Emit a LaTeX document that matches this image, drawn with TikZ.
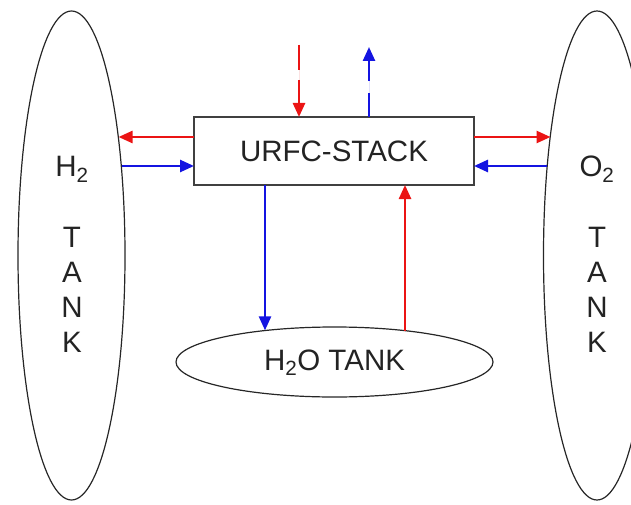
\documentclass[tikz,border=0pt]{standalone}
\usepackage{fontspec}
\setmainfont{Liberation Sans}
\usetikzlibrary{shapes.geometric,arrows.meta}
\definecolor{flowred}{RGB}{235,20,20}
\definecolor{flowblue}{RGB}{20,20,225}
\definecolor{txtgray}{RGB}{35,35,35}
\tikzset{
  tank/.style={draw=black!85, line width=1.2pt, ellipse, inner sep=0pt, outer sep=0pt},
  stackbox/.style={draw=black!75, line width=2pt, rectangle, inner sep=0pt, outer sep=0pt,
    minimum width=280pt, minimum height=68pt, text=txtgray, font=\fontsize{29.5}{31}\selectfont},
  lbl/.style={text=txtgray, inner sep=0pt, anchor=base, font=\fontsize{29.5}{31}\selectfont},
  flow/.style={line width=2.5pt, -{Triangle[length=14pt,width=12pt]}},
  redflow/.style={flow, draw=flowred, fill=flowred},
  blueflow/.style={flow, draw=flowblue, fill=flowblue},
}
\begin{document}
\begin{tikzpicture}[x=1pt,y=-1pt]
\useasboundingbox (0,0) rectangle (631,505);
\clip (0,0) rectangle (631,505);
% tanks
\node[tank, minimum width=107pt, minimum height=489pt] (h2tank) at (71.5,255.5) {};
\node[tank, minimum width=107pt, minimum height=489pt] (o2tank) at (597,255.5) {};
\node[tank, minimum width=317pt, minimum height=70pt] (h2otank) at (334.5,362) {};
\node[stackbox] (stack) at (334,151) {URFC-STACK};
% labels
\node[lbl] (h2lbl) at (72,177) {H\textsubscript{2}};
\node[lbl] (h2t) at (72,247) {T};
\node[lbl] (h2a) at (72,282) {A};
\node[lbl] (h2n) at (72,317) {N};
\node[lbl] (h2k) at (72,352) {K};
\node[lbl] (o2lbl) at (597,177) {O\textsubscript{2}};
\node[lbl] (o2t) at (597,247) {T};
\node[lbl] (o2a) at (597,282) {A};
\node[lbl] (o2n) at (597,317) {N};
\node[lbl] (o2k) at (597,352) {K};
\node[lbl] (h2olbl) at (334.5,370) {H\textsubscript{2}O TANK};
% free ends on top
\coordinate (redin) at (299,45);
\coordinate (blueout) at (369,47);
% horizontal flows
\draw[redflow] ([yshift=14pt]stack.west) -- ([yshift=14pt]stack.west -| h2tank.68.4);
\draw[blueflow] ([yshift=-15pt]stack.west -| h2tank.60.9) -- ([yshift=-15pt]stack.west);
\draw[redflow] ([yshift=14pt]stack.east) -- ([yshift=14pt]stack.east -| o2tank.111.6);
\draw[blueflow] ([yshift=-15pt]stack.east -| o2tank.119.1) -- ([yshift=-15pt]stack.east);
% vertical flows
\draw[blueflow] ([xshift=-69pt]stack.south) -- ([xshift=-69pt]stack.south |- h2otank.155.6);
\draw[redflow] ([xshift=71pt]stack.south |- h2otank.24.2) -- ([xshift=71pt]stack.south);
% dashed top flows
\draw[redflow, dash pattern=on 25pt off 10pt] (redin) -- (redin |- stack.north);
\draw[blueflow, dash pattern=on 24pt off 12pt] (blueout |- stack.north) -- (blueout);
\end{tikzpicture}
\end{document}
